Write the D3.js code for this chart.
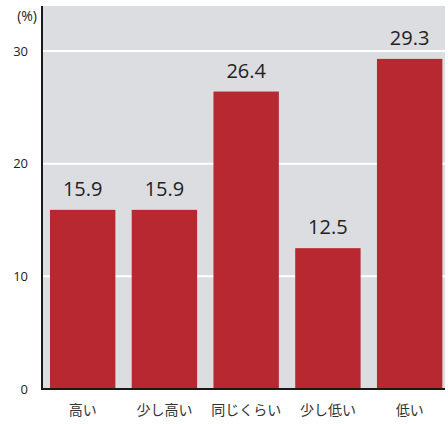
<!DOCTYPE html>
<html>
<head>
<meta charset="utf-8">
<script src="https://cdn.jsdelivr.net/npm/d3@7"></script>
<style>
  body { margin: 0; background: #fff; }
  text { font-family: "Noto Sans CJK JP", "Noto Sans", sans-serif; }
</style>
</head>
<body>
<div id="chart"></div>
<script>
const categories = ["高い", "少し高い", "同じくらい", "少し低い", "低い"];
const values = [15.9, 15.9, 26.4, 12.5, 29.3];
const ticks = [0, 10, 20, 30];

const W = 448, H = 424;
const plot = { left: 42, right: 445, top: 6, bottom: 389 };

const svg = d3.select("#chart").append("svg")
    .attr("width", W)
    .attr("height", H);

const x = d3.scaleBand()
    .domain(categories)
    .range([plot.left, plot.right])
    .paddingInner(0.2)
    .paddingOuter(0.065)
    .align(0.75);

const y = d3.scaleLinear()
    .domain([0, 30])
    .range([plot.bottom, 51]);

// background
svg.append("rect")
    .attr("x", plot.left)
    .attr("y", plot.top)
    .attr("width", plot.right - plot.left)
    .attr("height", plot.bottom - plot.top)
    .attr("fill", "#dcdde0");

// gridlines
svg.append("g")
    .selectAll("line")
    .data(ticks.filter(d => d > 0))
    .join("line")
      .attr("x1", plot.left)
      .attr("x2", plot.right)
      .attr("y1", d => y(d))
      .attr("y2", d => y(d))
      .attr("stroke", "#fff")
      .attr("stroke-width", 2);

// bars
svg.append("g")
    .selectAll("rect")
    .data(values)
    .join("rect")
      .attr("x", (d, i) => x(categories[i]))
      .attr("y", d => y(d))
      .attr("width", x.bandwidth())
      .attr("height", d => y(0) - y(d))
      .attr("fill", "#b72830");

// value labels
svg.append("g")
    .selectAll("text")
    .data(values)
    .join("text")
      .attr("x", (d, i) => x(categories[i]) + x.bandwidth() / 2)
      .attr("y", d => y(d) - 14)
      .attr("text-anchor", "middle")
      .attr("fill", "#222")
      .style("font-family", "'Open Sans', 'Noto Sans', sans-serif")
      .style("font-size", "20px")
      .text(d => d.toFixed(1));

// y axis
const yAxis = svg.append("g")
    .attr("transform", `translate(${plot.left},0)`)
    .call(d3.axisLeft(y).tickValues(ticks).tickSize(0).tickPadding(14));
yAxis.select(".domain").remove();
yAxis.selectAll("text")
    .attr("fill", "#222")
    .style("font-size", "13px")
    .style("font-family", "'Open Sans', 'Noto Sans', sans-serif");

svg.append("text")
    .attr("x", 37)
    .attr("y", 21)
    .attr("text-anchor", "end")
    .attr("fill", "#222")
    .style("font-family", "'Open Sans', 'Noto Sans', sans-serif")
    .style("font-size", "14px")
    .text("(%)");

// x axis labels
const xAxis = svg.append("g")
    .attr("transform", `translate(0,${plot.bottom})`)
    .call(d3.axisBottom(x).tickSize(0).tickPadding(16));
xAxis.select(".domain").remove();
xAxis.selectAll("text")
    .attr("fill", "#333")
    .style("font-size", "14px");

// axis lines
svg.append("line")
    .attr("x1", plot.left).attr("x2", plot.left)
    .attr("y1", plot.top).attr("y2", plot.bottom + 1)
    .attr("stroke", "#1a1a1a").attr("stroke-width", 2);
svg.append("line")
    .attr("x1", plot.left - 1).attr("x2", plot.right)
    .attr("y1", plot.bottom).attr("y2", plot.bottom)
    .attr("stroke", "#1a1a1a").attr("stroke-width", 2);
</script>
</body>
</html>
